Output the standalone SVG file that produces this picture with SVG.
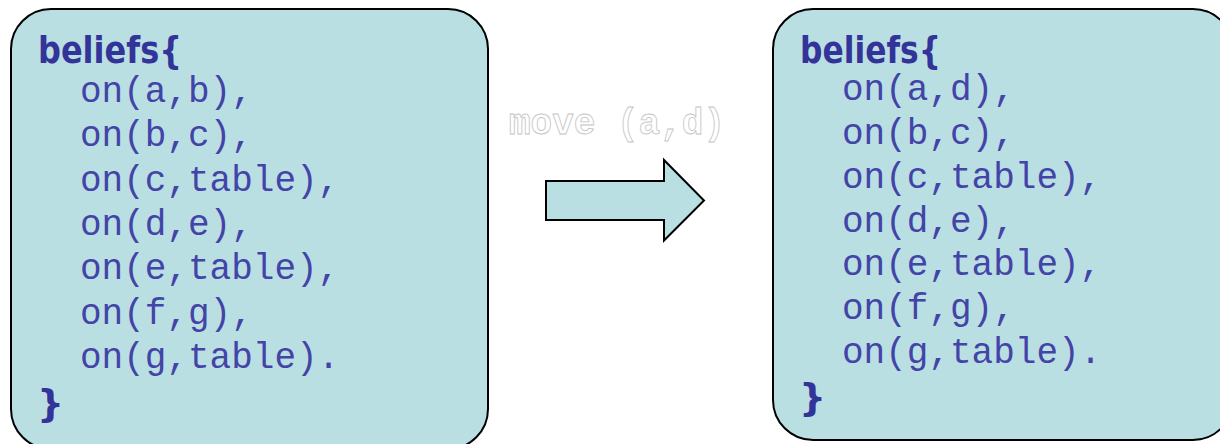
<svg xmlns="http://www.w3.org/2000/svg" width="1220" height="444" viewBox="0 0 1220 444">
<style>
.box{fill:#b9dfe2;stroke:#000;stroke-width:2}
.hd{font-family:"DejaVu Sans",Verdana,sans-serif;font-weight:bold;font-size:38px;fill:#333399}
.mono{font-family:"Liberation Mono","Courier New",monospace;font-size:36px;fill:#4343a8}
.lbl{font-family:"Liberation Mono","Courier New",monospace;font-weight:bold;font-size:36px;fill:#fff;stroke:#c4c4c4;stroke-width:0.8}
</style>
<rect width="1220" height="444" fill="#fff"/>
<g id="before">
<rect class="box" x="11" y="9" width="477" height="440" rx="40" ry="40"/>
<text class="hd" x="38" y="63" textLength="144" lengthAdjust="spacingAndGlyphs">beliefs{</text>
<text class="mono" x="80" y="102">on(a,b),</text>
<text class="mono" x="80" y="146.3">on(b,c),</text>
<text class="mono" x="80" y="190.7">on(c,table),</text>
<text class="mono" x="80" y="235">on(d,e),</text>
<text class="mono" x="80" y="279.3">on(e,table),</text>
<text class="mono" x="80" y="323.7">on(f,g),</text>
<text class="mono" x="80" y="368">on(g,table).</text>
<text class="hd" x="37" y="416">}</text>
</g>
<g id="after">
<rect class="box" x="773" y="9" width="460" height="431" rx="40" ry="40"/>
<text class="hd" x="800" y="63" textLength="141" lengthAdjust="spacingAndGlyphs">beliefs{</text>
<text class="mono" x="842" y="100">on(a,d),</text>
<text class="mono" x="842" y="143.8">on(b,c),</text>
<text class="mono" x="842" y="187.7">on(c,table),</text>
<text class="mono" x="842" y="231.5">on(d,e),</text>
<text class="mono" x="842" y="275.3">on(e,table),</text>
<text class="mono" x="842" y="319.2">on(f,g),</text>
<text class="mono" x="842" y="363">on(g,table).</text>
<text class="hd" x="799" y="410">}</text>
</g>
<g id="connectors">
<path d="M546,181 H664 V160 L704,200.5 L664,240.5 V220 H546 Z" fill="#b9dfe2" stroke="#000" stroke-width="2" stroke-linejoin="miter"/>
<text class="lbl" x="509" y="134">move (a,d)</text>
</g>
</svg>
